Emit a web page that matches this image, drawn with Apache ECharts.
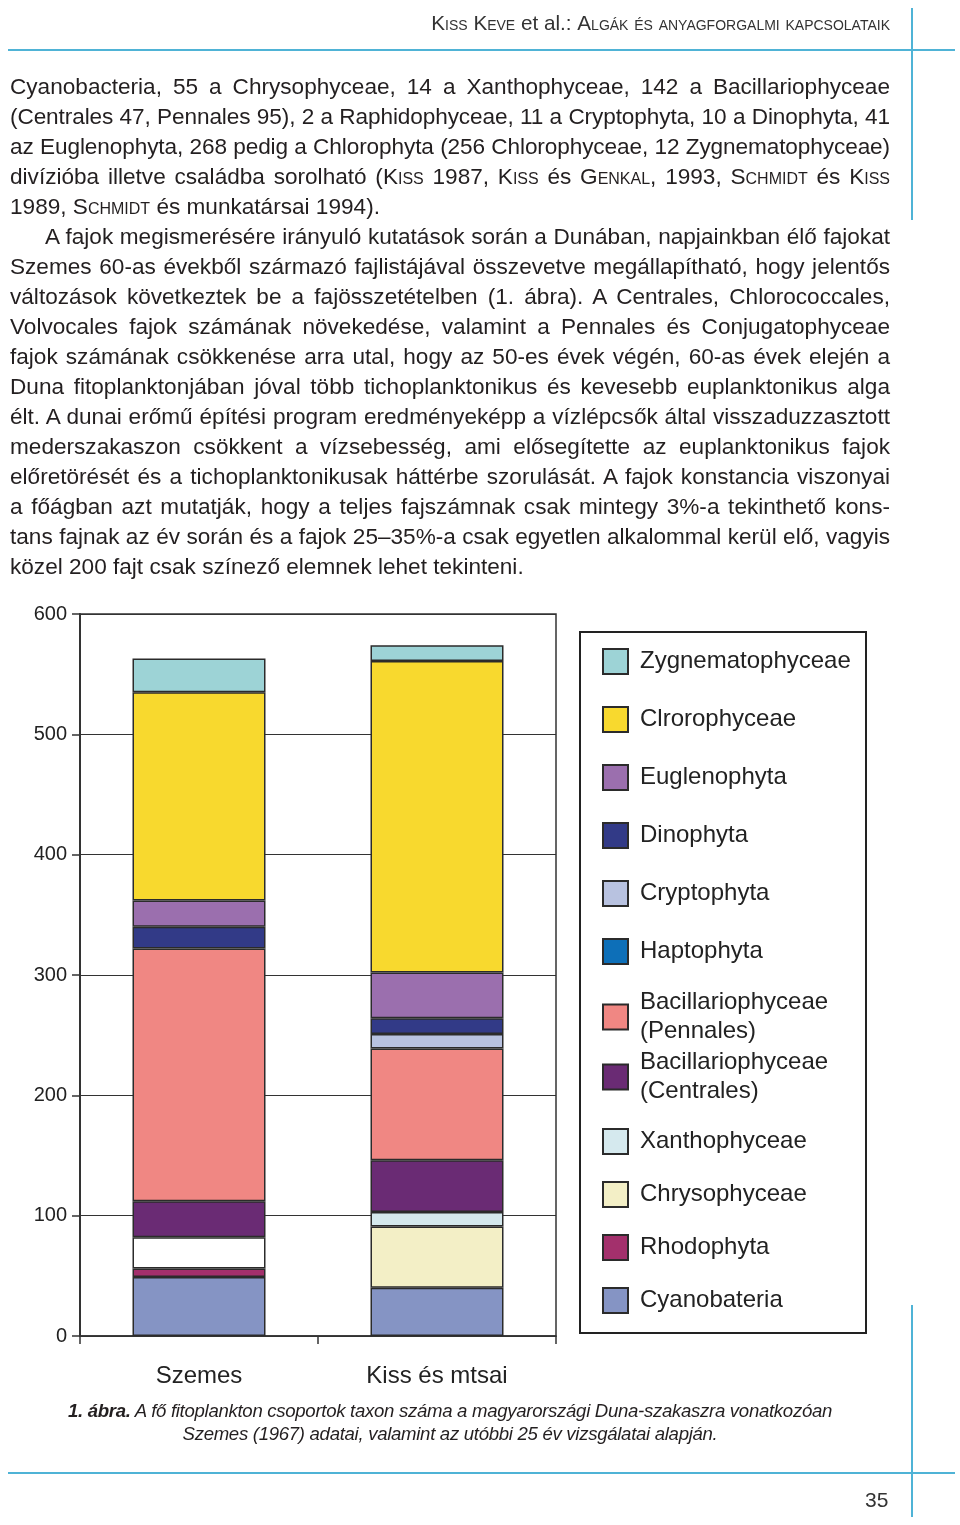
<!DOCTYPE html>
<html>
<head>
<meta charset="utf-8">
<script src="https://cdn.jsdelivr.net/npm/echarts@6/dist/echarts.min.js"></script>
<style>
  html, body { margin:0; padding:0; background:#fff; }
  body { width:960px; height:1525px; position:relative; overflow:hidden;
         font-family:'Liberation Sans', Arial, sans-serif; color:#231f20; }
  #chart { position:absolute; left:0; top:0; width:960px; height:1525px; }
  .ov { position:absolute; white-space:nowrap; }
  .line { position:absolute; left:10px; width:880px; height:30px; line-height:30px;
          font-size:22.6px; white-space:nowrap; text-align:justify; text-align-last:justify; }
  .last { text-align:left; text-align-last:left; }
  .sc { font-variant:small-caps; }
  .hr { position:absolute; background:#4fb3d6; }
  .cap { position:absolute; left:0; width:900px; text-align:center; font-style:italic;
         font-size:18.6px; line-height:23px; color:#231f20; letter-spacing:-0.3px; }
</style>
</head>
<body>
<div id="chart"></div>

<div class="hr" style="left:8px; top:49px; width:947px; height:2px;"></div>
<div class="hr" style="left:911px; top:8px; width:2px; height:212px;"></div>
<div class="hr" style="left:8px; top:1472px; width:947px; height:2px;"></div>
<div class="hr" style="left:911px; top:1305px; width:2px; height:212px;"></div>

<div class="ov" style="right:70px; top:9px; font-size:20.7px; line-height:28px; color:#333;"><span class="sc">Kiss Keve</span> et al.: <span class="sc">Algák és anyagforgalmi kapcsolataik</span></div>

<div class="line" style="top:72px;">Cyanobacteria, 55 a Chrysophyceae, 14 a Xanthophyceae, 142 a Bacillariophyceae</div>
<div class="line" style="top:102px;">(Centrales 47, Pennales 95), 2 a Raphidophyceae, 11 a Cryptophyta, 10 a Dinophyta, 41</div>
<div class="line" style="top:132px;">az Euglenophyta, 268 pedig a Chlorophyta (256 Chlorophyceae, 12 Zygnematophyceae)</div>
<div class="line" style="top:162px;">divízióba illetve családba sorolható (<span class="sc">Kiss</span> 1987, <span class="sc">Kiss</span> és <span class="sc">Genkal</span>, 1993, <span class="sc">Schmidt</span> és <span class="sc">Kiss</span></div>
<div class="line last" style="top:192px;">1989, <span class="sc">Schmidt</span> és munkatársai 1994).</div>
<div class="line" style="top:222px; left:45px; width:845px;">A fajok megismerésére irányuló kutatások során a Dunában, napjainkban élő fajokat</div>
<div class="line" style="top:252px;">Szemes 60-as évekből származó fajlistájával összevetve megállapítható, hogy jelentős</div>
<div class="line" style="top:282px;">változások következtek be a fajösszetételben (1. ábra). A Centrales, Chlorococcales,</div>
<div class="line" style="top:312px;">Volvocales fajok számának növekedése, valamint a Pennales és Conjugatophyceae</div>
<div class="line" style="top:342px;">fajok számának csökkenése arra utal, hogy az 50-es évek végén, 60-as évek elején a</div>
<div class="line" style="top:372px;">Duna fitoplanktonjában jóval több tichoplanktonikus és kevesebb euplanktonikus alga</div>
<div class="line" style="top:402px;">élt. A dunai erőmű építési program eredményeképp a vízlépcsők által visszaduzzasztott</div>
<div class="line" style="top:432px;">mederszakaszon csökkent a vízsebesség, ami elősegítette az euplanktonikus fajok</div>
<div class="line" style="top:462px;">előretörését és a tichoplanktonikusak háttérbe szorulását. A fajok konstancia viszonyai</div>
<div class="line" style="top:492px;">a főágban azt mutatják, hogy a teljes fajszámnak csak mintegy 3%-a tekinthető kons-</div>
<div class="line" style="top:522px;">tans fajnak az év során és a fajok 25–35%-a csak egyetlen alkalommal kerül elő, vagyis</div>
<div class="line last" style="top:552px;">közel 200 fajt csak színező elemnek lehet tekinteni.</div>

<div class="cap" style="top:1399px;"><b>1. ábra.</b> A fő fitoplankton csoportok taxon száma a magyarországi Duna-szakaszra vonatkozóan</div>
<div class="cap" style="top:1422px;">Szemes (1967) adatai, valamint az utóbbi 25 év vizsgálatai alapján.</div>

<div class="ov" style="left:865px; top:1487px; font-size:21px; line-height:26px; color:#333;">35</div>

<script>
// ---- data ----
const categories = ['Szemes', 'Kiss és mtsai'];
const cyanobateria   = [49, 40];
const rhodophyta     = [7, 0];
const chrysophyceae  = [0, 51];
const xanthophyceae  = [26, 12];
const centrales      = [30, 43];
const pennales       = [210, 93];
const haptophyta     = [0, 0];
const cryptophyta    = [0, 12];
const dinophyta      = [18, 13];
const euglenophyta   = [22, 38];
const clrorophyceae  = [173, 259];
const zygnematophyceae = [28, 13];
const yTicks = [0, 100, 200, 300, 400, 500, 600];

// fit justified lines that are too long for their box
document.querySelectorAll('.line').forEach(el => {
  let ls = 0;
  while (el.scrollWidth > el.clientWidth + 0.5 && ls > -1.5) {
    ls -= 0.05;
    el.style.letterSpacing = ls + 'px';
  }
});

const seriesDefs = [
  { name: 'Cyanobateria', data: cyanobateria, color: '#8594c4' },
  { name: 'Rhodophyta', data: rhodophyta, color: '#a3306c' },
  { name: 'Chrysophyceae', data: chrysophyceae, color: '#f3efc6' },
  { name: 'Xanthophyceae', data: xanthophyceae, color: '#d5e9ee', override: { 0: '#ffffff' } },
  { name: 'Bacillariophyceae (Centrales)', data: centrales, color: '#6a2b74' },
  { name: 'Bacillariophyceae (Pennales)', data: pennales, color: '#f08783' },
  { name: 'Haptophyta', data: haptophyta, color: '#0d6fb8' },
  { name: 'Cryptophyta', data: cryptophyta, color: '#b8c2e0' },
  { name: 'Dinophyta', data: dinophyta, color: '#323a87' },
  { name: 'Euglenophyta', data: euglenophyta, color: '#9b6fae' },
  { name: 'Clrorophyceae', data: clrorophyceae, color: '#f8d92e' },
  { name: 'Zygnematophyceae', data: zygnematophyceae, color: '#9dd3d6' }
];

const FONT = "'Liberation Sans', Arial, sans-serif";

const series = seriesDefs.map(d => ({
  name: d.name,
  type: 'bar',
  stack: 'total',
  barWidth: 133,
  itemStyle: { color: d.color, borderColor: '#2b2b2b', borderWidth: 1.5 },
  emphasis: { disabled: true },
  data: d.data.map((v, i) => {
    const val = v === 0 ? null : v;
    if (d.override && d.override[i]) return { value: val, itemStyle: { color: d.override[i] } };
    return val;
  })
}));

const legendCommon = {
  orient: 'vertical',
  left: 602,
  padding: 0,
  icon: 'rect',
  itemWidth: 25,
  itemHeight: 25,
  selectedMode: false,
  formatter: n => n.replace(' (', '\n('),
  textStyle: { fontFamily: FONT, fontSize: 24, color: '#222', lineHeight: 26, padding: [0, 0, 0, 7] }
};

const option = {
  animation: false,
  textStyle: { fontFamily: FONT },
  grid: { left: 80, top: 614, width: 476, height: 722, show: true, borderColor: '#333', borderWidth: 1.5 },
  xAxis: {
    type: 'category',
    data: categories,
    axisLine: { lineStyle: { color: '#333', width: 1.5 } },
    axisTick: { show: true, length: 8, lineStyle: { color: '#333', width: 1.5 } },
    axisLabel: { fontFamily: FONT, fontSize: 24, color: '#222', margin: 28 }
  },
  yAxis: {
    type: 'value',
    min: yTicks[0], max: yTicks[yTicks.length - 1], interval: 100,
    axisLine: { show: true, lineStyle: { color: '#333', width: 2 } },
    axisTick: { show: true, length: 8, lineStyle: { color: '#333', width: 1.5 } },
    axisLabel: { fontFamily: FONT, fontSize: 20, color: '#222', margin: 13 },
    splitLine: { show: true, lineStyle: { color: '#333', width: 1.2 } }
  },
  legend: [
    Object.assign({}, legendCommon, {
      top: 648, itemGap: 31,
      data: ['Zygnematophyceae', 'Clrorophyceae', 'Euglenophyta', 'Dinophyta', 'Cryptophyta', 'Haptophyta']
    }),
    Object.assign({}, legendCommon, {
      top: 988, itemGap: 2,
      textStyle: Object.assign({}, legendCommon.textStyle, { lineHeight: 29 }),
      data: ['Bacillariophyceae (Pennales)', 'Bacillariophyceae (Centrales)']
    }),
    Object.assign({}, legendCommon, {
      top: 1128, itemGap: 26,
      data: ['Xanthophyceae', 'Chrysophyceae', 'Rhodophyta', 'Cyanobateria']
    })
  ],
  graphic: [{
    type: 'rect', left: 579, top: 631, z: -1,
    shape: { width: 286, height: 701 },
    style: { fill: '#fff', stroke: '#222', lineWidth: 2 }
  }],
  series: series
};

const chart = echarts.init(document.getElementById('chart'), null, { renderer: 'canvas' });
chart.setOption(option);
</script>
</body>
</html>
